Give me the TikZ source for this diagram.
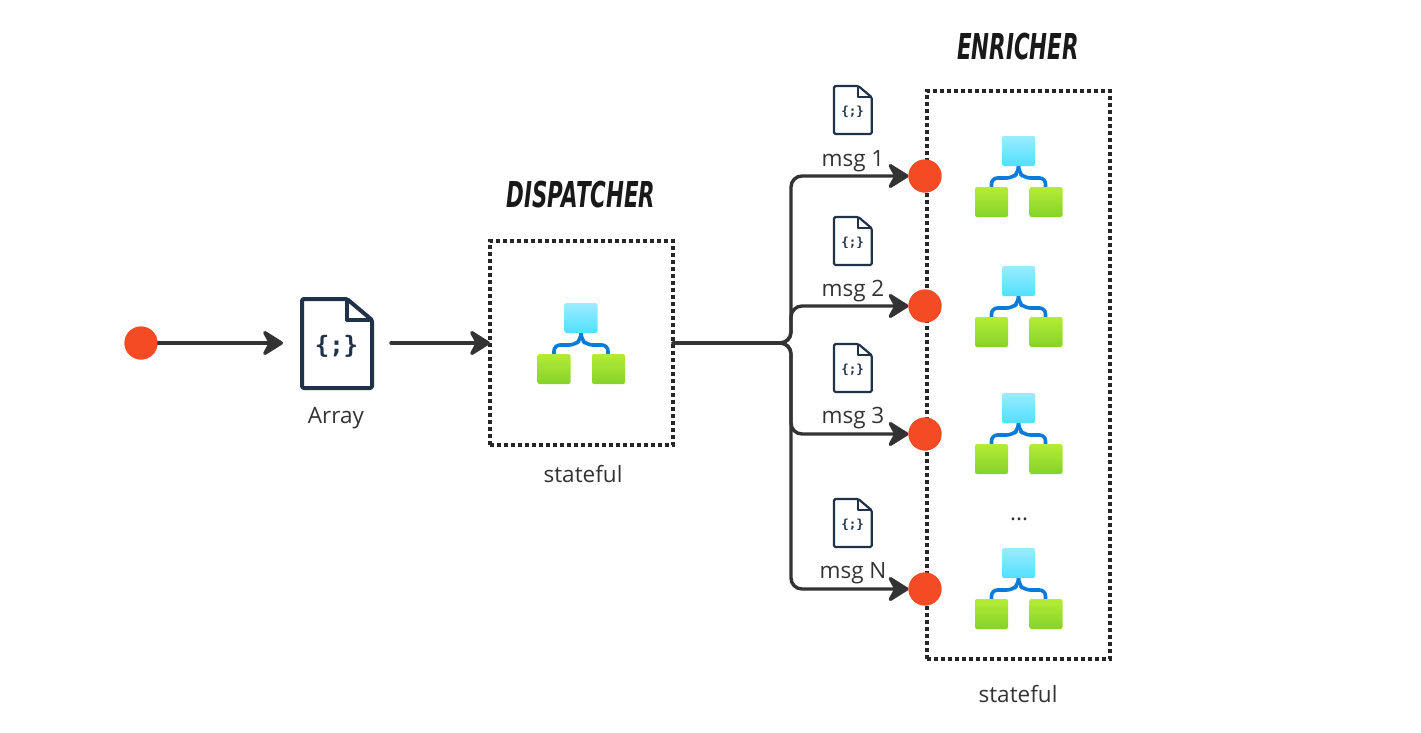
\documentclass[tikz,border=0pt]{standalone}
\usepackage{fontspec}
\setmainfont{Open Sans}
\newfontfamily\headfont{DejaVu Sans}
\newfontfamily\codefont{DejaVu Sans Mono}
\usetikzlibrary{arrows.meta}
\definecolor{linecol}{HTML}{333333}
\definecolor{redcol}{HTML}{F54B25}
\definecolor{doccol}{HTML}{20324A}
\definecolor{bluecol}{HTML}{0A7BD8}
\definecolor{topa}{HTML}{9CEBFF}
\definecolor{topb}{HTML}{50E0FF}
\definecolor{bota}{HTML}{B4EC36}
\definecolor{botb}{HTML}{86D22A}
\tikzset{
  x=1pt,y=-1pt,
  flow/.style={draw=linecol,line width=3.4pt,line cap=round,rounded corners=11pt,
    -{Stealth[length=24pt,width=30pt,inset=8pt,round]}},
  dot/.style={circle,fill=redcol,draw=none,minimum size=33pt,inner sep=0pt,outer sep=0pt},
  dotbox/.style={draw=black!85,line width=3.6pt,dash pattern=on 3.6pt off 3.4pt,inner sep=0pt,outer sep=0pt,anchor=north west},
  lbl/.style={font=\fontsize{22.5}{25}\selectfont,text=black!80,inner sep=0pt},
  head/.style={font=\fontsize{31}{34}\selectfont\headfont\bfseries\itshape,text=black!90,inner sep=0pt},
  topbox/.style={rounded corners=2pt,draw=none,top color=topa,bottom color=topb},
  botbox/.style={rounded corners=2pt,draw=none,top color=bota,bottom color=botb},
}
% centre x, top y of the logic-app icon
\newcommand{\appicon}[2]{%
  \begin{scope}[shift={(#1,#2)}]
    \draw[bluecol,line width=3.6pt,rounded corners=6pt] (-27,52) -- (-27,42) -- (-6,42) -- (0,36) -- (0,28);
    \draw[bluecol,line width=3.6pt,rounded corners=6pt] (27,52) -- (27,42) -- (6,42) -- (0,36) -- (0,28);
    \shade[topbox] (-16.5,0) rectangle (16.5,30);
    \shade[botbox] (-43.5,51) rectangle (-10.5,81);
    \shade[botbox] (11,51) rectangle (44,81);
  \end{scope}}
% name, left, top, scale, line width, font size
\newcommand{\docicon}[6]{%
  \begin{scope}[shift={(#2,#3)},scale=#4]
    \draw[doccol,line width=#5,line join=round,rounded corners=1.5pt]
      (0,0) -- (45,0) -- (70,21) -- (70,89) -- (0,89) -- cycle;
    \draw[doccol,line width=#5,line join=round] (45,0) -- (45,21) -- (70,21);
    \node[inner sep=0pt,text=doccol,font=\fontsize{#6}{#6}\selectfont\codefont\bfseries] (#1) at (34.5,47) {\{;\}};
  \end{scope}}
\begin{document}
\begin{tikzpicture}
\useasboundingbox (0,0) rectangle (1421,732);
% boxes
\node[dotbox,minimum width=183pt,minimum height=204pt] (disp) at (490,241) {};
\node[dotbox,minimum width=183pt,minimum height=568pt] (enr) at (927,91) {};
% anchors
\node[dot] (start) at (141,343) {};
\node[dot] (c1) at (925,176) {};
\node[dot] (c2) at (925,306) {};
\node[dot] (c3) at (925,434) {};
\node[dot] (c4) at (925,589) {};
\node[minimum width=70pt,minimum height=89pt,inner sep=0pt,outer sep=0pt] (array) at (337,343) {};
\coordinate (trunk) at (791,343);
% connectors
\draw[flow,shorten >=19pt] (start) -- (array);
\draw[flow,shorten <=19pt] (array) -- (disp.west);
\draw[flow] (disp.east) -- (trunk) |- (c1);
\draw[flow] (disp.east) -- (trunk) |- (c2);
\draw[flow] (disp.east) -- (trunk) |- (c3);
\draw[flow] (disp.east) -- (trunk) |- (c4);
% redraw circles on top
\fill[redcol] (c1) circle (16.5pt) (c2) circle (16.5pt) (c3) circle (16.5pt) (c4) circle (16.5pt) (start) circle (16.5pt);
% icons
\docicon{da}{302}{299}{1}{4pt}{24}
\docicon{d1}{834}{86}{0.54}{2.2pt}{12.5}
\docicon{d2}{834}{217}{0.54}{2.2pt}{12.5}
\docicon{d3}{834}{344}{0.54}{2.2pt}{12.5}
\docicon{d4}{834}{499}{0.54}{2.2pt}{12.5}
\appicon{581}{303}
\appicon{1018.5}{136}
\appicon{1018.5}{266}
\appicon{1018.5}{393}
\appicon{1018.5}{548}
% text
\node[lbl] (tarr) at (336,418) {Array};
\node[lbl] (ts1) at (583,474) {stateful};
\node[lbl] (ts2) at (1018,694) {stateful};
\node[lbl] (m1) at (853,161) {msg 1};
\node[lbl] (m2) at (853,291) {msg 2};
\node[lbl] (m3) at (853,418) {msg 3};
\node[lbl] (m4) at (853,573) {msg N};
\node[lbl] (more) at (1019,519) {...};
\node[head,xscale=0.69,yscale=1.15] (hd) at (581,195) {DISPATCHER};
\node[head,xscale=0.69,yscale=1.15] (he) at (1018,47) {ENRICHER};
\end{tikzpicture}
\end{document}
